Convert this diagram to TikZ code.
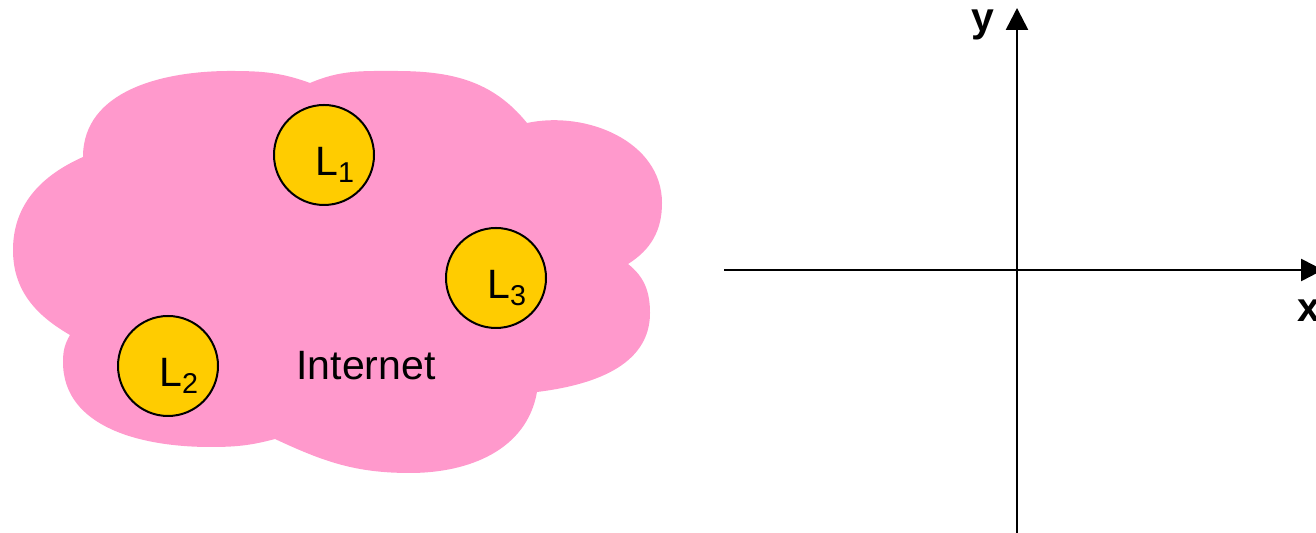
\documentclass[tikz,border=0pt]{standalone}
\usepackage{fontspec}
\setmainfont{Liberation Sans}
\usetikzlibrary{arrows.meta}
\definecolor{cloudpink}{HTML}{FF99CC}
\definecolor{lmyellow}{HTML}{FFCC00}
\tikzset{lm/.append style={circle, draw, fill=lmyellow, line width=1pt,
    minimum size=50pt, inner sep=0pt, text width=31pt, align=right,
    text height=21pt, text depth=0pt, font=\fontsize{20.5}{24}\selectfont}}
\tikzset{ax/.append style={line width=1.3pt, -{Triangle[length=11pt,width=11pt]}}}
\tikzset{axlab/.append style={inner sep=0pt, anchor=base, font=\fontsize{20.5}{24}\selectfont\bfseries}}

\begin{document}
\begin{tikzpicture}[x=0.5pt,y=0.5pt]
            \useasboundingbox (0,0) rectangle (1316,533);
            % the cloud
            \fill[cloudpink] (13,283) to[out=90,in=204] (83,376)
                to[out=90,in=180] (230,462) to[out=0,in=160] (310,450)
                to[out=23,in=180] (395,462) to[out=0,in=129] (527,410)
                to[out=12,in=90] (662,330) to[out=-90,in=32] (628,269)
                to[out=-38,in=90] (650,220) to[out=-90,in=7] (537,141)
                to[out=-100,in=0] (410,60) to[out=180,in=-25] (275,94)
                to[out=195,in=0] (210,86) to[out=180,in=-90] (63,171)
                to[out=90,in=240] (70,198) to[out=150,in=-90] cycle;
            \node[lm] (l1) at (324,378) {L\textsubscript{1}};
            \node[lm] (l2) at (168,167) {L\textsubscript{2}};
            \node[lm] (l3) at (496,255) {L\textsubscript{3}};
            \node[inner sep=0pt, anchor=base, font=\fontsize{20.5}{24}\selectfont] (inet) at (366,153) {Internet};
            % \axes
            \coordinate (xl) at (724,263);
            \coordinate (xr) at (1323,263);
            \coordinate (yb) at (1017,0);
            \coordinate (yt) at (1017,525);
            \draw[ax] (xl) -- (xr);
            \draw[ax] (yb) -- (yt);
            \node[axlab] (ylab) at (983,501) {y};
            \node[axlab] (xlab) at (1309,211) {x};
        \end{tikzpicture}
\end{document}
